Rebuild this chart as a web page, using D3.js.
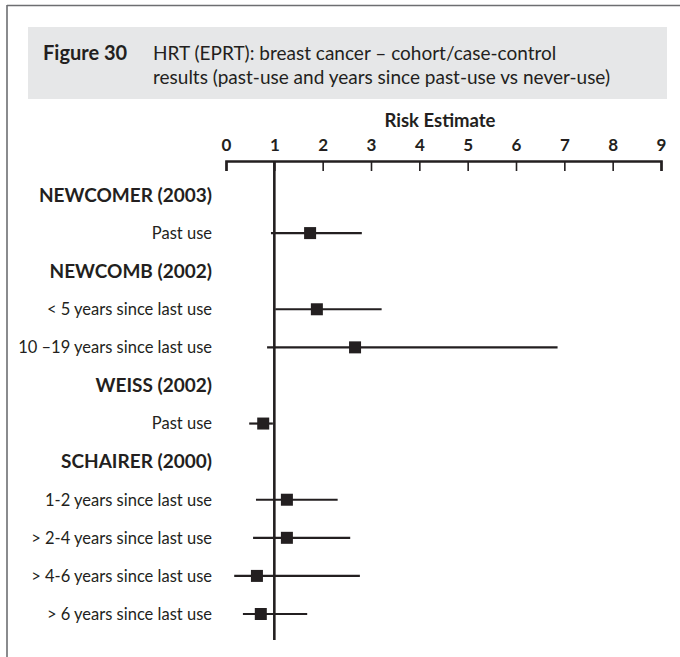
<!DOCTYPE html>
<html><head><meta charset="utf-8">
<script src="https://cdn.jsdelivr.net/npm/d3@7"></script>
<style>
html,body{margin:0;padding:0;background:#fff;}
svg{display:block;font-family:Lato,"Open Sans",sans-serif;}
</style></head>
<body>
<script>
// ---- data ----
const rowLabels = ["NEWCOMER (2003)","Past use","NEWCOMB (2002)","< 5 years since last use","10 –19 years since last use","WEISS (2002)","Past use","SCHAIRER (2000)","1-2 years since last use","> 2-4 years since last use","> 4-6 years since last use","> 6 years since last use"];
const rowIsHeader = [true,false,true,false,false,true,false,true,false,false,false,false];
const estimates = [null,1.74,null,1.88,2.67,null,0.77,null,1.26,1.26,0.64,0.72];
const lower = [null,0.93,null,1.02,0.85,null,0.48,null,0.62,0.56,0.17,0.35];
const upper = [null,2.81,null,3.22,6.86,null,0.97,null,2.31,2.57,2.77,1.68];
const tickValues = [0,1,2,3,4,5,6,7,8,9];
const tickLabels = ["0","1","2","3","4","5","6","7","8","9"];
const axisTitle = "Risk Estimate";
const figNum = "Figure 30";
const titleLines = ["HRT (EPRT): breast cancer – cohort/case-control","results (past-use and years since past-use vs never-use)"];

const W = 680, H = 657, ink = "#231f20";
const svg = d3.select("body").append("svg").attr("width",W).attr("height",H);

// frame
svg.append("line").attr("x1",7).attr("x2",W).attr("y1",5.5).attr("y2",5.5).attr("stroke","#6d6e71").attr("stroke-width",1.6);
svg.append("line").attr("x1",7).attr("x2",7).attr("y1",5).attr("y2",H).attr("stroke","#6d6e71").attr("stroke-width",1.6);

// title box
svg.append("rect").attr("x",28).attr("y",27).attr("width",639).attr("height",72).attr("fill","#e6e7e8");
svg.append("text").attr("x",43).attr("y",60).attr("font-weight","bold").attr("font-size",20).attr("fill",ink).text(figNum);
titleLines.forEach((t,i)=>{
  svg.append("text").attr("x",153).attr("y",60+i*24).attr("font-size",19).attr("fill",ink).text(t);
});

// scales
const x = d3.scaleLinear().domain([0,9]).range([226,661]);
const y = d3.scalePoint().domain(d3.range(rowLabels.length)).range([195,614]);

// axis (ticks hang down from line, labels above)
const axisY = 161;
const ax = svg.append("g").attr("transform",`translate(0,${axisY})`)
  .call(d3.axisTop(x).tickValues(tickValues).tickFormat((d,i)=>tickLabels[i]).tickSizeInner(-10).tickSizeOuter(-10).tickPadding(10));
ax.select(".domain").attr("stroke",ink).attr("stroke-width",2.6);
ax.selectAll(".tick line").attr("stroke",ink).attr("stroke-width",1.6);
ax.selectAll(".tick text").attr("font-family","Lato,sans-serif").attr("font-size",17).attr("font-weight","bold").attr("fill",ink);

svg.append("text").attr("x",440).attr("y",127).attr("text-anchor","middle").attr("font-weight","bold").attr("font-size",18.5).attr("fill",ink).text(axisTitle);

// row labels
svg.append("g").selectAll("text").data(rowLabels).join("text")
  .attr("x",212).attr("y",(d,i)=>y(i)).attr("dy","0.35em").attr("text-anchor","end")
  .attr("font-size",(d,i)=>rowIsHeader[i]?19:16.5)
  .attr("font-weight",(d,i)=>rowIsHeader[i]?"bold":"normal")
  .attr("fill",ink).text(d=>d);

// reference line at 1
svg.append("line").attr("x1",x(1)).attr("x2",x(1)).attr("y1",axisY).attr("y2",640).attr("stroke",ink).attr("stroke-width",2.6);

const idx = d3.range(rowLabels.length).filter(i=>estimates[i]!==null);
svg.append("g").selectAll("line").data(idx).join("line")
  .attr("x1",i=>x(lower[i])).attr("x2",i=>x(upper[i]))
  .attr("y1",i=>y(i)).attr("y2",i=>y(i)).attr("stroke",ink).attr("stroke-width",2.2);
const s = 12;
svg.append("g").selectAll("rect").data(idx).join("rect")
  .attr("x",i=>x(estimates[i])-s/2).attr("y",i=>y(i)-s/2).attr("width",s).attr("height",s).attr("fill",ink);
</script>
</body></html>
